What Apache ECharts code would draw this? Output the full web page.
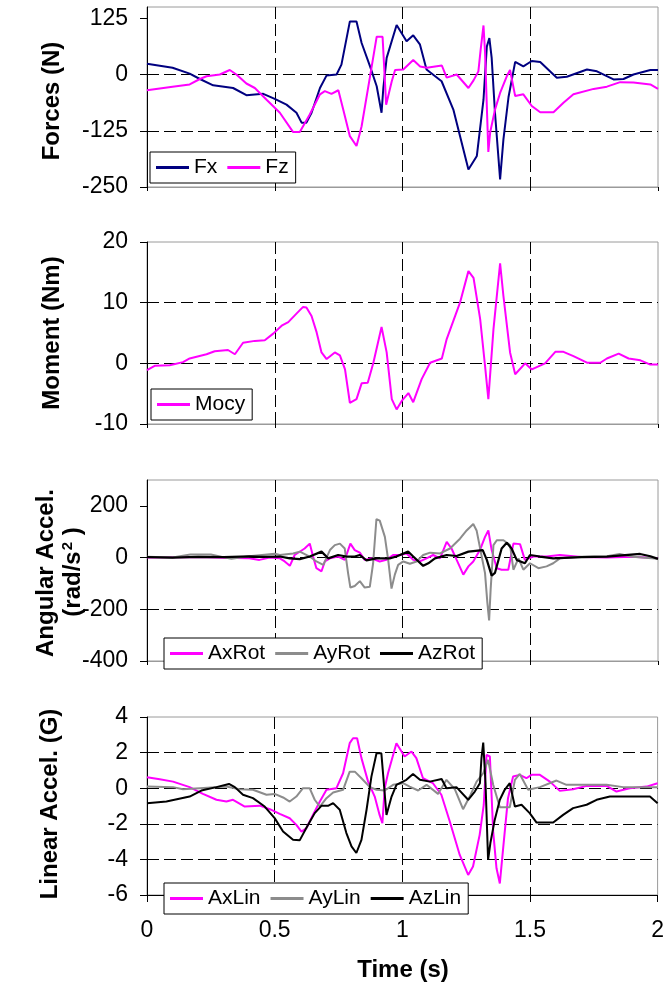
<!DOCTYPE html>
<html><head><meta charset="utf-8">
<script src="https://cdn.jsdelivr.net/npm/echarts@6/dist/echarts.min.js"></script>
<style>html,body{margin:0;padding:0;background:#fff}#c{width:667px;height:991px}</style>
</head><body><div id="c"></div>
<script>
// ---- data (time in s, value) ----
const timeTickLabels = [0, 0.5, 1, 1.5, 2];
const forceTicks = [-250, -125, 0, 125];
const momentTicks = [-10, 0, 10, 20];
const angTicks = [-400, -200, 0, 200];
const linTicks = [-6, -4, -2, 0, 2, 4];

const fx = [[0,24],[0.10,15],[0.167,2],[0.207,-10],[0.259,-24],[0.337,-30],[0.389,-46],[0.455,-43],[0.5,-54],[0.546,-67],[0.585,-85],[0.605,-107],[0.624,-107],[0.644,-85],[0.677,-30],[0.703,-2],[0.742,0],[0.761,22],[0.794,118],[0.82,118],[0.84,70],[0.873,18],[0.899,-26],[0.918,-85],[0.925,-30],[0.938,37],[0.977,110],[1.016,74],[1.042,87],[1.068,67],[1.094,11],[1.153,-15],[1.199,-78],[1.258,-211],[1.291,-181],[1.317,-56],[1.330,62],[1.340,81],[1.349,37],[1.362,-85],[1.382,-233],[1.395,-144],[1.415,-50],[1.441,28],[1.473,18],[1.506,30],[1.539,28],[1.604,-7],[1.643,-5],[1.722,11],[1.761,7],[1.826,-11],[1.865,-10],[1.904,0],[1.97,10],[2,10]];
const fz = [[0,-35],[0.10,-27],[0.167,-22],[0.207,-10],[0.233,-4],[0.285,0],[0.324,10],[0.35,0],[0.389,-20],[0.422,-30],[0.468,-56],[0.52,-85],[0.572,-128],[0.598,-128],[0.637,-89],[0.677,-44],[0.696,-37],[0.722,-43],[0.749,-35],[0.768,-78],[0.794,-137],[0.82,-159],[0.84,-115],[0.873,-4],[0.899,84],[0.922,84],[0.936,-67],[0.958,-15],[0.971,10],[1.003,11],[1.042,32],[1.069,18],[1.095,15],[1.154,20],[1.173,-7],[1.212,0],[1.258,-30],[1.278,-13],[1.297,7],[1.306,56],[1.317,109],[1.323,50],[1.336,-172],[1.343,-129],[1.362,-78],[1.382,-41],[1.408,-4],[1.421,10],[1.441,-48],[1.473,-44],[1.506,-70],[1.539,-84],[1.591,-84],[1.63,-63],[1.669,-44],[1.748,-32],[1.8,-27],[1.852,-17],[1.904,-18],[1.97,-22],[2,-32]];

const mocy = [[0,-1.1],[0.03,-0.4],[0.089,-0.3],[0.141,0.2],[0.167,0.8],[0.233,1.5],[0.265,2.0],[0.317,2.2],[0.344,1.5],[0.376,3.4],[0.422,3.7],[0.461,3.8],[0.494,4.9],[0.527,6.2],[0.553,6.8],[0.585,8.2],[0.611,9.3],[0.624,9.2],[0.644,7.8],[0.664,5.1],[0.683,1.8],[0.703,0.7],[0.735,1.8],[0.755,1.3],[0.775,-1.0],[0.794,-6.5],[0.82,-5.9],[0.84,-3.3],[0.864,-3.2],[0.886,0.1],[0.918,6.0],[0.938,1.8],[0.958,-5.9],[0.977,-7.6],[0.997,-6.2],[1.023,-4.9],[1.042,-6.4],[1.075,-2.6],[1.108,0.1],[1.154,0.8],[1.173,4.0],[1.225,10],[1.258,15.2],[1.278,14.1],[1.304,7.3],[1.323,-0.4],[1.336,-5.9],[1.356,5.6],[1.382,16.5],[1.395,11.1],[1.421,1.8],[1.441,-1.8],[1.48,0],[1.506,-1.0],[1.558,0],[1.598,1.9],[1.63,1.9],[1.669,1.2],[1.722,0.1],[1.774,0.1],[1.8,0.8],[1.846,1.6],[1.885,0.8],[1.931,0.5],[1.97,-0.2],[2,-0.2]];

const axRot = [[0,0],[0.1,1],[0.2,2],[0.3,-1],[0.4,-3],[0.44,-9],[0.48,0],[0.52,-3],[0.539,-15],[0.559,-32],[0.578,10],[0.617,35],[0.637,54],[0.65,4],[0.663,-41],[0.683,-53],[0.696,-15],[0.716,-3],[0.748,4],[0.774,-9],[0.796,54],[0.813,29],[0.833,19],[0.852,-9],[0.878,-3],[0.911,-15],[0.937,-9],[0.963,10],[0.989,10],[1.016,16],[1.042,-9],[1.068,-15],[1.094,-3],[1.12,10],[1.147,-3],[1.173,61],[1.192,35],[1.212,-9],[1.238,-66],[1.258,-34],[1.277,-15],[1.303,29],[1.323,80],[1.336,105],[1.349,29],[1.369,-41],[1.388,-47],[1.414,-47],[1.434,54],[1.46,52],[1.479,-9],[1.512,4],[1.564,4],[1.616,10],[1.7,2],[1.8,0],[1.9,3],[2,-3]];
const ayRot = [[0,3],[0.1,0],[0.17,12],[0.25,12],[0.33,-5],[0.4,5],[0.45,10],[0.5,15],[0.52,10],[0.572,16],[0.598,23],[0.637,4],[0.663,-15],[0.69,-28],[0.716,29],[0.735,48],[0.755,54],[0.774,35],[0.787,-60],[0.796,-116],[0.813,-110],[0.833,-91],[0.852,-116],[0.872,-113],[0.885,-22],[0.898,149],[0.911,143],[0.931,80],[0.944,-9],[0.957,-120],[0.97,-66],[0.983,-28],[1.003,-15],[1.029,-24],[1.055,-15],[1.081,10],[1.108,19],[1.147,16],[1.186,35],[1.225,73],[1.251,105],[1.277,130],[1.29,105],[1.31,4],[1.323,-60],[1.332,-173],[1.339,-243],[1.345,-123],[1.356,48],[1.369,67],[1.395,67],[1.421,48],[1.434,-47],[1.454,-3],[1.473,-47],[1.499,-22],[1.532,-41],[1.564,-34],[1.59,-22],[1.616,-3],[1.7,3],[1.8,5],[1.85,14],[1.9,3],[2,-5]];
const azRot = [[0,2],[0.1,0],[0.2,3],[0.3,2],[0.4,5],[0.45,3],[0.52,4],[0.559,-3],[0.598,-6],[0.637,4],[0.683,23],[0.709,-3],[0.748,10],[0.781,4],[0.813,4],[0.833,10],[0.859,-11],[0.898,-3],[0.95,-3],[0.976,4],[1.022,23],[1.042,4],[1.081,-32],[1.101,-22],[1.127,-3],[1.173,10],[1.212,6],[1.258,23],[1.314,29],[1.33,-9],[1.349,-70],[1.362,-59],[1.388,35],[1.408,57],[1.427,35],[1.447,-9],[1.479,-22],[1.499,10],[1.538,4],[1.59,-3],[1.7,2],[1.8,4],[1.93,14],[1.97,5],[2,-5]];

const axLin = [[0,0.62],[0.05,0.5],[0.102,0.37],[0.167,0.06],[0.219,-0.32],[0.272,-0.65],[0.311,-0.75],[0.337,-0.65],[0.383,-1.03],[0.442,-0.98],[0.481,-1.18],[0.52,-1.44],[0.559,-1.69],[0.585,-2.06],[0.605,-2.44],[0.624,-2.25],[0.65,-1.5],[0.677,-0.75],[0.703,-0.09],[0.742,0],[0.768,0.84],[0.794,2.53],[0.807,2.81],[0.823,2.81],[0.84,1.69],[0.866,0.37],[0.892,-0.47],[0.911,-1.5],[0.922,-1.97],[0.931,0],[0.944,0.84],[0.977,2.53],[1.009,1.78],[1.036,2.06],[1.055,1.69],[1.081,0.56],[1.12,0.28],[1.153,-0.37],[1.186,-1.87],[1.225,-3.75],[1.258,-4.87],[1.277,-4.4],[1.303,-2.62],[1.319,-0.94],[1.33,1.87],[1.343,1.78],[1.356,-2.44],[1.369,-4.5],[1.382,-5.35],[1.395,-3.38],[1.414,-0.56],[1.434,0.66],[1.46,0.75],[1.486,0.56],[1.506,0.75],[1.539,0.75],[1.578,0.37],[1.617,-0.15],[1.669,-0.06],[1.722,0.13],[1.8,0.13],[1.839,-0.19],[1.891,0],[1.957,0.09],[2,0.28]];
const ayLin = [[0,0.09],[0.102,0.06],[0.141,-0.06],[0.207,0],[0.311,0.09],[0.363,-0.06],[0.415,-0.09],[0.468,-0.37],[0.5,-0.32],[0.533,-0.52],[0.559,-0.75],[0.585,-0.47],[0.611,0],[0.637,0],[0.657,-0.65],[0.677,-1.03],[0.703,-0.56],[0.729,-0.24],[0.768,-0.09],[0.794,0.93],[0.814,0.93],[0.84,0.56],[0.873,0.06],[0.899,-0.09],[0.931,-0.13],[0.964,0.19],[1.003,0.28],[1.029,0.09],[1.062,-0.13],[1.095,0.19],[1.14,-0.32],[1.173,0.47],[1.206,-0.06],[1.238,-1.18],[1.264,-0.47],[1.291,0.37],[1.317,0.84],[1.336,1.59],[1.356,0.19],[1.382,-1.07],[1.421,-1.07],[1.441,0.47],[1.46,0.8],[1.493,-0.09],[1.539,0.06],[1.604,0.43],[1.643,0.19],[1.735,0.19],[1.8,0.19],[1.865,0.06],[2,0.06]];
const azLin = [[0,-0.84],[0.076,-0.75],[0.167,-0.47],[0.213,-0.13],[0.272,0.06],[0.321,0.24],[0.344,0.06],[0.376,-0.37],[0.415,-0.56],[0.461,-1.03],[0.5,-1.68],[0.533,-2.43],[0.572,-2.9],[0.598,-2.93],[0.624,-2.24],[0.657,-1.4],[0.683,-0.99],[0.709,-0.99],[0.729,-0.84],[0.755,-1.21],[0.781,-2.52],[0.801,-3.27],[0.82,-3.64],[0.84,-2.9],[0.86,-1.21],[0.879,0.65],[0.899,1.96],[0.918,1.96],[0.938,-1.5],[0.958,-0.47],[0.977,0.19],[1.016,0.47],[1.042,0.8],[1.069,0.47],[1.108,0.37],[1.154,0.52],[1.173,0],[1.212,0.06],[1.258,-0.65],[1.284,-0.19],[1.304,0.28],[1.31,1.68],[1.317,2.56],[1.326,0.28],[1.336,-4.02],[1.345,-3.08],[1.362,-1.78],[1.382,-0.65],[1.401,-0.09],[1.421,0.28],[1.441,-1.03],[1.467,-0.93],[1.499,-1.4],[1.526,-1.93],[1.591,-1.93],[1.63,-1.5],[1.669,-1.12],[1.722,-0.93],[1.761,-0.65],[1.813,-0.47],[1.904,-0.47],[1.97,-0.47],[2,-0.84]];

// ---- chart ----
const FONT = '"Liberation Sans", Arial, sans-serif';
const chart = echarts.init(document.getElementById('c'), null, {renderer: 'canvas'});

const gridPos = [
  {top: 7, height: 180},
  {top: 242, height: 182},
  {top: 480, height: 181},
  {top: 717, height: 178}
];
const yCfg = [
  {min: -250, max: 150, interval: 125, ticks: forceTicks},
  {min: -10, max: 20, interval: 10, ticks: momentTicks},
  {min: -400, max: 300, interval: 200, ticks: angTicks},
  {min: -6, max: 4, interval: 2, ticks: linTicks}
];
const dash = {color: '#000', width: 1, type: [12, 5]};

const grids = gridPos.map(g => ({left: 147, right: 9, top: g.top, height: g.height,
  show: true, borderColor: '#9a9a9a', borderWidth: 1, backgroundColor: '#fff'}));

const xAxes = gridPos.map((g, i) => ({
  type: 'value', gridIndex: i, min: 0, max: 2, interval: 0.5,
  axisLine: {show: true, onZero: false, lineStyle: {color: i === 3 ? '#000' : '#9a9a9a', width: 1}},
  axisTick: {show: true, length: i === 3 ? 7 : 4, lineStyle: {color: '#000'}},
  axisLabel: {show: i === 3, fontSize: 23, color: '#000', fontFamily: FONT, margin: 24,
    formatter: v => timeTickLabels.includes(v) ? String(v) : ''},
  splitLine: {show: true, showMinLine: false, showMaxLine: false, lineStyle: dash}
}));

const yAxes = yCfg.map((c, i) => ({
  type: 'value', gridIndex: i, min: c.min, max: c.max, interval: c.interval,
  axisLine: {show: true, onZero: false, lineStyle: {color: '#000', width: 1}},
  axisTick: {show: true, length: 7, lineStyle: {color: '#000'}, customValues: c.ticks},
  axisLabel: {fontSize: 23, color: '#000', fontFamily: FONT, margin: 19, customValues: c.ticks,
    formatter: v => c.ticks.includes(v) ? String(v) : ''},
  splitLine: {show: true, showMinLine: false, showMaxLine: false, lineStyle: dash}
}));

function ser(name, data, gi, color, w) {
  return {name, type: 'line', xAxisIndex: gi, yAxisIndex: gi, data, symbol: 'none',
    showSymbol: false, lineStyle: {color, width: w || 2}, itemStyle: {color}, z: 3};
}

const series = [
  ser('Fx', fx, 0, '#000080'),
  ser('Fz', fz, 0, '#ff00ff'),
  ser('Mocy', mocy, 1, '#ff00ff'),
  ser('AxRot', axRot, 2, '#ff00ff'),
  ser('AyRot', ayRot, 2, '#8c8c8c'),
  ser('AzRot', azRot, 2, '#000000', 2.2),
  ser('AxLin', axLin, 3, '#ff00ff'),
  ser('AyLin', ayLin, 3, '#8c8c8c'),
  ser('AzLin', azLin, 3, '#000000')
];

const legendBase = {orient: 'horizontal', icon: 'rect', itemWidth: 33, itemHeight: 3, itemGap: 10,
  padding: [5, 7, 5, 6], borderColor: '#000', borderWidth: 1, backgroundColor: '#fff',
  selectedMode: false, z: 10,
  textStyle: {fontSize: 21, color: '#000', fontFamily: FONT, padding: [0, 0, 0, 0]}};

const legends = [
  Object.assign({}, legendBase, {data: ['Fx', 'Fz'], left: 150, top: 152}),
  Object.assign({}, legendBase, {data: ['Mocy'], left: 151, top: 389}),
  Object.assign({}, legendBase, {data: ['AxRot', 'AyRot', 'AzRot'], left: 164, top: 638}),
  Object.assign({}, legendBase, {data: ['AxLin', 'AyLin', 'AzLin'], left: 164, top: 883})
];

function vtitle(text, x, y, extra) {
  return Object.assign({type: 'text', x, y, rotation: Math.PI / 2, z: 20,
    style: {text, fontSize: 24, fontWeight: 'bold', fontFamily: FONT, fill: '#000',
      textAlign: 'center', textVerticalAlign: 'middle'}}, extra || {});
}

const graphic = [
  vtitle('Forces (N)', 52, 101),
  vtitle('Moment (Nm)', 52, 333),
  vtitle('Angular Accel.', 46, 573),
  {type: 'text', x: 73, y: 572, rotation: Math.PI / 2, z: 20,
    style: {text: '{a|(rad/s}{b|2}{a| )}', fill: '#000', textAlign: 'center', textVerticalAlign: 'middle',
      rich: {a: {fontSize: 24, fontWeight: 'bold', fontFamily: FONT, fill: '#000'},
             b: {fontSize: 15, fontWeight: 'bold', fontFamily: FONT, fill: '#000', verticalAlign: 'top', padding: [0, 0, 10, 1]}}}},
  vtitle('Linear Accel. (G)', 50, 804),
  {type: 'text', x: 403, y: 970, z: 20,
    style: {text: 'Time (s)', fontSize: 24, fontWeight: 'bold', fontFamily: FONT, fill: '#000',
      textAlign: 'center', textVerticalAlign: 'middle'}}
];

chart.setOption({
  animation: false,
  backgroundColor: '#fff',
  grid: grids,
  xAxis: xAxes,
  yAxis: yAxes,
  legend: legends,
  series,
  graphic
});
</script></body></html>
